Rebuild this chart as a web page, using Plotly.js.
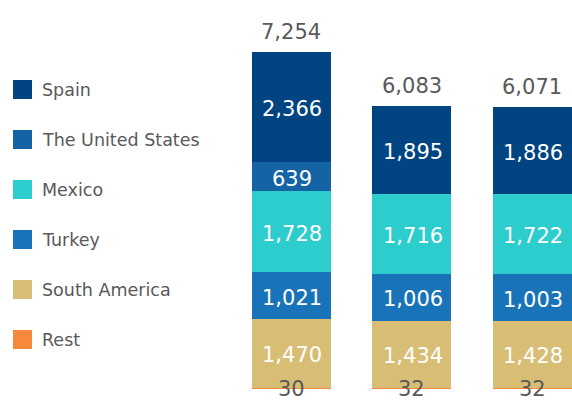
<!DOCTYPE html>
<html>
<head>
<meta charset="utf-8">
<script src="https://cdn.plot.ly/plotly-3.0.1.min.js"></script>
<style>html,body{margin:0;padding:0;background:#fff;}#chart{width:572px;height:401px;}</style>
</head>
<body>
<div id="chart"></div>
<script>
// ---- data ----
const categories = ["Period 1", "Period 2", "Period 3"];
const seriesNames = ["Rest", "South America", "Turkey", "Mexico", "The United States", "Spain"];
const rest = [30, 32, 32];
const southAmerica = [1470, 1434, 1428];
const turkey = [1021, 1006, 1003];
const mexico = [1728, 1716, 1722];
const unitedStates = [639, 0, 0];
const spain = [2366, 1895, 1886];
const seriesColors = ["#F7893B", "#D8BE75", "#1973B8", "#2DCCCD", "#1464A5", "#004481"];
const legendOrder = ["Spain", "The United States", "Mexico", "Turkey", "South America", "Rest"];

// ---- layout geometry ----
const W = 572, H = 401;
const M = {l: 231, r: 0, t: 10, b: 12};
const PW = W - M.l - M.r, PH = H - M.t - M.b;
const px2x = p => (p - M.l) / PW;
const px2y = p => (H - M.b - p) / PH;

const seriesValues = [rest, southAmerica, turkey, mexico, unitedStates, spain];
const fmt = v => v.toLocaleString('en-US');

const traces = seriesValues.map((vals, i) => ({
  type: 'bar',
  name: seriesNames[i],
  x: categories,
  y: vals,
  marker: {color: seriesColors[i], line: {width: 0}},
  textposition: 'none',
  hoverinfo: 'x+y+name',
  showlegend: false
}));

const totals = categories.map((c, j) => seriesValues.reduce((s, a) => s + a[j], 0));

const annotations = [];
// inside segment labels
categories.forEach((c, j) => {
  let base = 0;
  seriesValues.forEach((vals, i) => {
    const v = vals[j];
    if (seriesNames[i] !== 'Rest' && v > 0) {
      annotations.push({
        x: c, y: base + v / 2, xref: 'x', yref: 'y', xanchor: 'center', yanchor: 'middle',
        yshift: -2, xshift: 1, showarrow: false, text: fmt(v),
        font: {family: 'DejaVu Sans', size: 21, color: '#ffffff'}
      });
    }
    base += v;
  });
});
categories.forEach((c, j) => {
  annotations.push({
    x: c, y: totals[j], xref: 'x', yref: 'y', yanchor: 'bottom', xanchor: 'center',
    yshift: 6, showarrow: false, text: fmt(totals[j]),
    font: {family: 'DejaVu Sans', size: 21, color: '#595959'}
  });
  annotations.push({
    x: c, y: 0, xref: 'x', yref: 'y', yanchor: 'middle', xanchor: 'center',
    yshift: 0, showarrow: false, text: fmt(rest[j]),
    font: {family: 'DejaVu Sans', size: 21, color: '#595959'}
  });
});

// custom legend (squares + labels)
const shapes = [];
legendOrder.forEach((name, k) => {
  const idx = seriesNames.indexOf(name);
  const cy = 89.5 + 50 * k;
  shapes.push({
    type: 'rect', xref: 'paper', yref: 'paper',
    x0: px2x(13), x1: px2x(32), y0: px2y(cy - 9.5), y1: px2y(cy + 9.5),
    fillcolor: seriesColors[idx], line: {width: 0}
  });
  annotations.push({
    xref: 'paper', yref: 'paper', x: px2x(40), y: px2y(cy + 0.5),
    xanchor: 'left', yanchor: 'middle', showarrow: false, text: name,
    font: {family: 'DejaVu Sans', size: 17.5, color: '#595959'}
  });
});

const layout = {
  width: W, height: H,
  margin: M,
  barmode: 'stack',
  bargap: 0.344,
  paper_bgcolor: '#ffffff',
  plot_bgcolor: '#ffffff',
  showlegend: false,
  xaxis: {type: 'category', range: [-0.5, 2.328], showticklabels: false, showgrid: false, zeroline: false, showline: false, ticks: ''},
  yaxis: {range: [0, 8150], showticklabels: false, showgrid: false, zeroline: false, showline: false, ticks: ''},
  annotations: annotations,
  shapes: shapes,
  font: {family: 'DejaVu Sans', color: '#595959'}
};

Plotly.newPlot('chart', traces, layout, {displayModeBar: false, staticPlot: true});
</script>
</body>
</html>
